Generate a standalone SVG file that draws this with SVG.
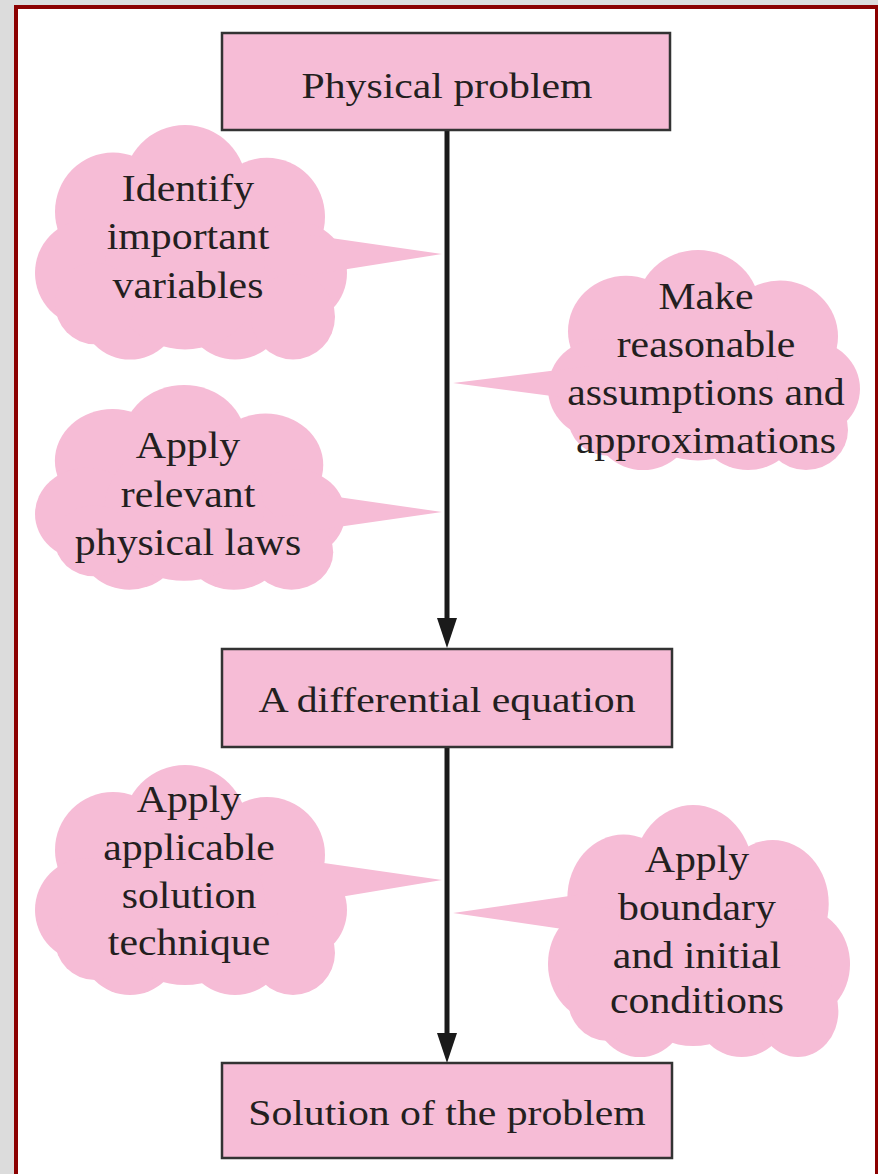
<svg xmlns="http://www.w3.org/2000/svg" xmlns:xlink="http://www.w3.org/1999/xlink" width="878" height="1174" viewBox="0 0 878 1174">
<style>
.bg{fill:#dcdcdc}
.frame{fill:#ffffff;stroke:#8b0000;stroke-width:4}
.box{fill:#f6bcd6;stroke:#333333;stroke-width:2.5}
.cloud{fill:#f6bcd6}
.t{font-family:"Liberation Serif","Times New Roman",serif;fill:#231f20;text-anchor:middle}
.bt{font-size:36px}
.ct{font-size:38px}
.conn{stroke:#1a1a1a;stroke-width:5;fill:none}
</style>
<defs>
<g id="cloudShape">
<circle cx="150" cy="62" r="62"/>
<circle cx="78" cy="85" r="58"/>
<circle cx="232" cy="90" r="58"/>
<circle cx="52" cy="145" r="52"/>
<circle cx="262" cy="145" r="50"/>
<circle cx="95" cy="180" r="50"/>
<circle cx="200" cy="178" r="52"/>
<circle cx="150" cy="140" r="80"/>
<circle cx="258" cy="188" r="42"/>
<circle cx="60" cy="175" r="40"/>
</g>
<marker id="arrow" markerUnits="userSpaceOnUse" viewBox="0 0 30 20" refX="2" refY="10" markerWidth="30" markerHeight="20" orient="auto">
<path d="M0,0 L30,10 L0,20 z" fill="#1a1a1a"/>
</marker>
</defs>
<rect class="bg" x="0" y="0" width="878" height="1174"/>
<rect class="frame" x="16" y="7" width="861" height="1200"/>

<g id="connectors">
<line class="conn" x1="447" y1="130" x2="447" y2="620" marker-end="url(#arrow)"/>
<line class="conn" x1="447" y1="747" x2="447" y2="1035" marker-end="url(#arrow)"/>
</g>

<g id="cloud-identify" class="cloud">
<use xlink:href="#cloudShape" transform="translate(35,125) scale(1,1.02)"/>
<polygon points="310,235 442,254 310,275"/>
<g transform="translate(188,0) scale(1.1,1)">
<text class="t ct" x="0" y="201">Identify</text>
<text class="t ct" x="0" y="249">important</text>
<text class="t ct" x="0" y="298">variables</text>
</g>
</g>

<g id="cloud-assumptions" class="cloud">
<use xlink:href="#cloudShape" transform="translate(548,250) scale(1,0.957)"/>
<polygon points="453,383 590,366 590,401"/>
<g transform="translate(706,0) scale(1.1,1)">
<text class="t ct" x="0" y="309">Make</text>
<text class="t ct" x="0" y="357">reasonable</text>
<text class="t ct" x="0" y="405">assumptions and</text>
<text class="t ct" x="0" y="453">approximations</text>
</g>
</g>

<g id="cloud-laws" class="cloud">
<use xlink:href="#cloudShape" transform="translate(35,385) scale(0.994,0.89)"/>
<polygon points="310,493 442,512 310,531"/>
<g transform="translate(188,0) scale(1.1,1)">
<text class="t ct" x="0" y="458">Apply</text>
<text class="t ct" x="0" y="507">relevant</text>
<text class="t ct" x="0" y="555">physical laws</text>
</g>
</g>

<g id="cloud-technique" class="cloud">
<use xlink:href="#cloudShape" transform="translate(35,765) scale(1,1)"/>
<polygon points="310,861 442,880 310,902"/>
<g transform="translate(189,0) scale(1.1,1)">
<text class="t ct" x="0" y="812">Apply</text>
<text class="t ct" x="0" y="860">applicable</text>
<text class="t ct" x="0" y="908">solution</text>
<text class="t ct" x="0" y="955">technique</text>
</g>
</g>

<g id="cloud-conditions" class="cloud">
<use xlink:href="#cloudShape" transform="translate(548,805) scale(0.968,1.096)"/>
<polygon points="453,913 590,893 590,933"/>
<g transform="translate(697,0) scale(1.1,1)">
<text class="t ct" x="0" y="872">Apply</text>
<text class="t ct" x="0" y="920">boundary</text>
<text class="t ct" x="0" y="968">and initial</text>
<text class="t ct" x="0" y="1013">conditions</text>
</g>
</g>

<g id="box-physical">
<rect class="box" x="222" y="33" width="448" height="97"/>
<text class="t bt" transform="translate(447,98) scale(1.16,1)" x="0" y="0">Physical problem</text>
</g>

<g id="box-equation">
<rect class="box" x="222" y="649" width="450" height="98"/>
<text class="t bt" transform="translate(447,712) scale(1.16,1)" x="0" y="0">A differential equation</text>
</g>

<g id="box-solution">
<rect class="box" x="222" y="1063" width="450" height="95"/>
<text class="t bt" transform="translate(447,1125) scale(1.16,1)" x="0" y="0">Solution of the problem</text>
</g>
</svg>
